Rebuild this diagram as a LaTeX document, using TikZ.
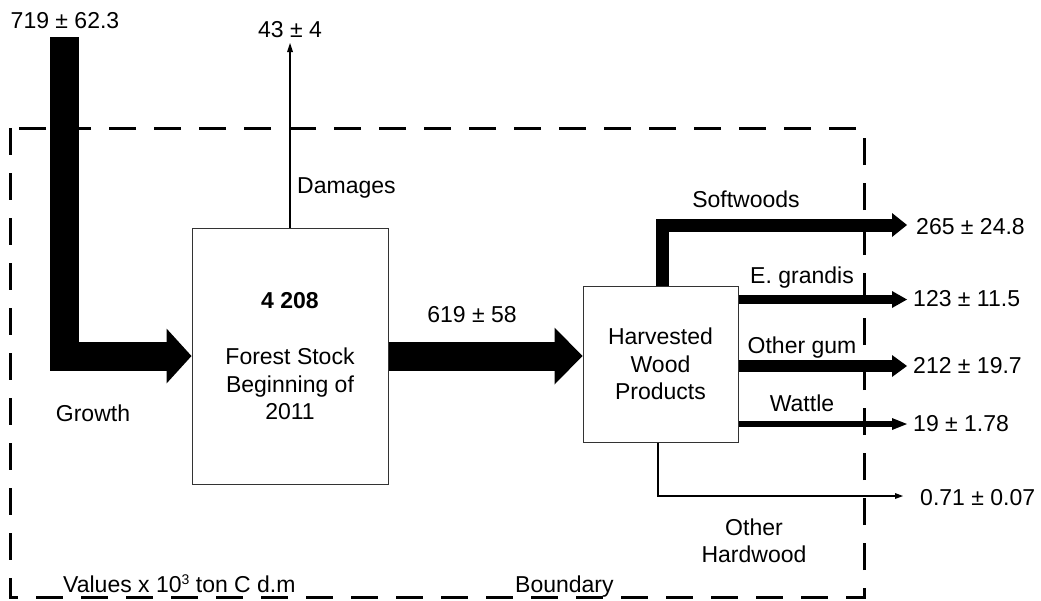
\documentclass[tikz,border=0pt]{standalone}
\usepackage{fontspec}
\setmainfont{Liberation Sans}
\usetikzlibrary{arrows.meta}
\newcommand{\smallexp}[1]{\raisebox{7.5pt}{\fontsize{14}{14}\selectfont #1}}
\begin{document}
\begin{tikzpicture}[x=1pt,y=-1pt,
  every node/.style={font=\fontsize{23}{27.5}\selectfont, inner sep=0pt},
  stock/.style={draw=black!80, line width=1pt, fill=white, align=center},
  boundary/.style={line width=3pt, dash pattern=on 27pt off 18pt},
  flow/.style={draw, line join=miter},
  lbl/.style={align=center}
]
\useasboundingbox (0,0) rectangle (1041,600);

% system boundary
\draw[boundary] (10,128) rectangle (864,597);

% stocks
\node[stock, minimum width=196pt, minimum height=256pt] (forest) at (290,356)
  {\textbf{4 208}\\[29pt]Forest Stock\\Beginning of\\2011};
\node[stock, minimum width=155pt, minimum height=156pt] (hwp) at (660.5,364)
  {Harvested\\Wood\\Products};

% flow end points
\coordinate (g0) at (64.5,37);
\coordinate (dm) at (290,43);
\coordinate (sw) at (907,225);
\coordinate (eg) at (907,299.5);
\coordinate (og) at (907,366);
\coordinate (wt) at (907,424);
\coordinate (oh) at (903,496);

% flows
\draw[flow, line width=29pt, -{Triangle[length=25pt,width=55pt,line width=0pt]}]
  (g0) |- (forest.west);
\draw[flow, line width=2pt, -{Triangle[length=9pt,width=6pt,line width=0pt]}]
  (forest.north) -- (dm);
\draw[flow, line width=29pt, -{Triangle[length=28pt,width=57pt,line width=0pt]}]
  (forest.east) -- (hwp.west |- forest.east);
\draw[flow, line width=13pt, -{Triangle[length=15pt,width=24pt,line width=0pt]}]
  ([xshift=1.5pt]hwp.north) |- (sw);
\draw[flow, line width=9pt, -{Triangle[length=15pt,width=17pt,line width=0pt]}]
  (hwp.east |- eg) -- (eg);
\draw[flow, line width=12pt, -{Triangle[length=15pt,width=22pt,line width=0pt]}]
  (hwp.east |- og) -- (og);
\draw[flow, line width=6pt, -{Triangle[length=15pt,width=12pt,line width=0pt]}]
  (hwp.east |- wt) -- (wt);
\draw[flow, line width=1.5pt, -{Triangle[length=8pt,width=6pt,line width=0pt]}]
  ([xshift=-2.5pt]hwp.south) |- (oh);

% labels
\node (vin) at (65,21) {719 ± 62.3};
\node (vdm) at (290,30) {43 ± 4};
\node[anchor=base west] (ldm) at (297,193) {Damages};
\node (lgr) at (93,413) {Growth};
\node (vhv) at (472,315) {619 ± 58};
\node (lsw) at (746,199) {Softwoods};
\node (leg) at (802,278) {E. grandis};
\node (log) at (802,348) {Other gum};
\node (lwt) at (802,403) {Wattle};
\node[lbl] (loh) at (754,541) {Other\\Hardwood};
\node[anchor=west] (vsw) at (916,227) {265 ± 24.8};
\node[anchor=west] (veg) at (913,299) {123 ± 11.5};
\node[anchor=west] (vog) at (913,366) {212 ± 19.7};
\node[anchor=west] (vwt) at (913,424) {19 ± 1.78};
\node[anchor=west] (voh) at (920,498) {0.71 ± 0.07};
\node[anchor=base west] (units) at (63,592) {Values x 10\smallexp{3} ton C d.m};
\node[anchor=base west] (lbd) at (515,592) {Boundary};
\end{tikzpicture}
\end{document}
